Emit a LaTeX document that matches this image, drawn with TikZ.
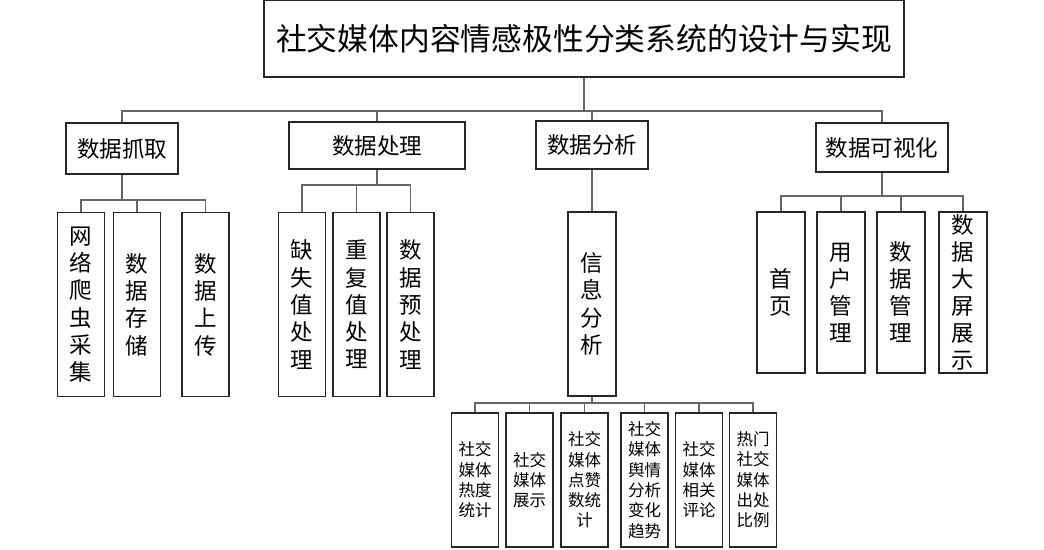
\documentclass[tikz,border=0pt]{standalone}
\usepackage{fontspec}
\setmainfont{Noto Sans CJK SC}
\begin{document}
\begin{tikzpicture}[x=1pt,y=-1pt,
  box/.style={draw=black!85,line width=1.1pt,fill=white,inner sep=0pt,align=center},
  lvltop/.style={box,font=\fontsize{30.8}{36}\selectfont},
  lvlone/.style={box,font=\fontsize{22.5}{26}\selectfont},
  lvltwo/.style={box,font=\fontsize{22.5}{27.3}\selectfont,minimum width=47,minimum height=184},
  lvlvis/.style={box,font=\fontsize{22.5}{27}\selectfont,minimum width=48,minimum height=161},
  lvlthree/.style={box,font=\fontsize{16.5}{20.3}\selectfont,minimum width=47,minimum height=134},
  conn/.style={draw=black!60,line width=1.3pt}
]
\useasboundingbox (0,0) rectangle (1044,549);

% top
\node[lvltop,minimum width=640,minimum height=77] (top) at (584,38.5) {社交媒体内容情感极性分类系统的设计与实现};

% level 1
\node[lvlone,minimum width=112,minimum height=51] (n1) at (122,148.5) {数据抓取};
\node[lvlone,minimum width=176,minimum height=47] (n2) at (377,145.5) {数据处理};
\node[lvlone,minimum width=112,minimum height=48] (n3) at (592,145) {数据分析};
\node[lvlone,minimum width=132,minimum height=49] (n4) at (882,147.5) {数据可视化};

% level 2 under n1
\node[lvltwo] (a1) at (81,304.5) {网\\络\\爬\\虫\\采\\集};
\node[lvltwo] (a2) at (137,304.5) {数\\据\\存\\储};
\node[lvltwo] (a3) at (205.5,304.5) {数\\据\\上\\传};

% level 2 under n2
\node[lvltwo] (b1) at (302,304.5) {缺\\失\\值\\处\\理};
\node[lvltwo] (b2) at (356.5,304.5) {重\\复\\值\\处\\理};
\node[lvltwo] (b3) at (410.5,304.5) {数\\据\\预\\处\\理};

% level 2 under n3
\node[lvltwo,minimum width=48] (c1) at (592,304) {信\\息\\分\\析};

% level 2 under n4
\node[lvlvis] (d1) at (781,292.5) {首\\页};
\node[lvlvis] (d2) at (841,292.5) {用\\户\\管\\理};
\node[lvlvis] (d3) at (901,292.5) {数\\据\\管\\理};
\node[lvlvis] (d4) at (963,292.5) {数\\据\\大\\屏\\展\\示};

% level 3 under c1
\node[lvlthree] (e1) at (475,480) {社交\\媒体\\热度\\统计};
\node[lvlthree] (e2) at (529.5,480) {社交\\媒体\\展示};
\node[lvlthree] (e3) at (584.5,480) {社交\\媒体\\点赞\\数统\\计};
\node[lvlthree] (e4) at (644.5,480) {社交\\媒体\\舆情\\分析\\变化\\趋势};
\node[lvlthree] (e5) at (699,480) {社交\\媒体\\相关\\评论};
\node[lvlthree] (e6) at (753,480) {热门\\社交\\媒体\\出处\\比例};

% connectors
\coordinate (bt) at (0,111);
\foreach \n in {n1,n2,n3,n4}{
  \draw[conn] (top.south) -- (top.south |- bt) -| (\n.north);
}
\coordinate (ba) at (0,200);
\foreach \n in {a1,a2,a3}{
  \draw[conn] (n1.south) -- (n1.south |- ba) -| (\n.north);
}
\coordinate (bb) at (0,185);
\foreach \n in {b1,b2,b3}{
  \draw[conn] (n2.south) -- (n2.south |- bb) -| (\n.north);
}
\draw[conn] (n3.south) -- (c1.north);
\coordinate (bd) at (0,196);
\foreach \n in {d1,d2,d3,d4}{
  \draw[conn] (n4.south) -- (n4.south |- bd) -| (\n.north);
}
\coordinate (be) at (0,403);
\foreach \n in {e1,e2,e3,e4,e5,e6}{
  \draw[conn] (c1.south) -- (c1.south |- be) -| (\n.north);
}
\end{tikzpicture}
\end{document}
